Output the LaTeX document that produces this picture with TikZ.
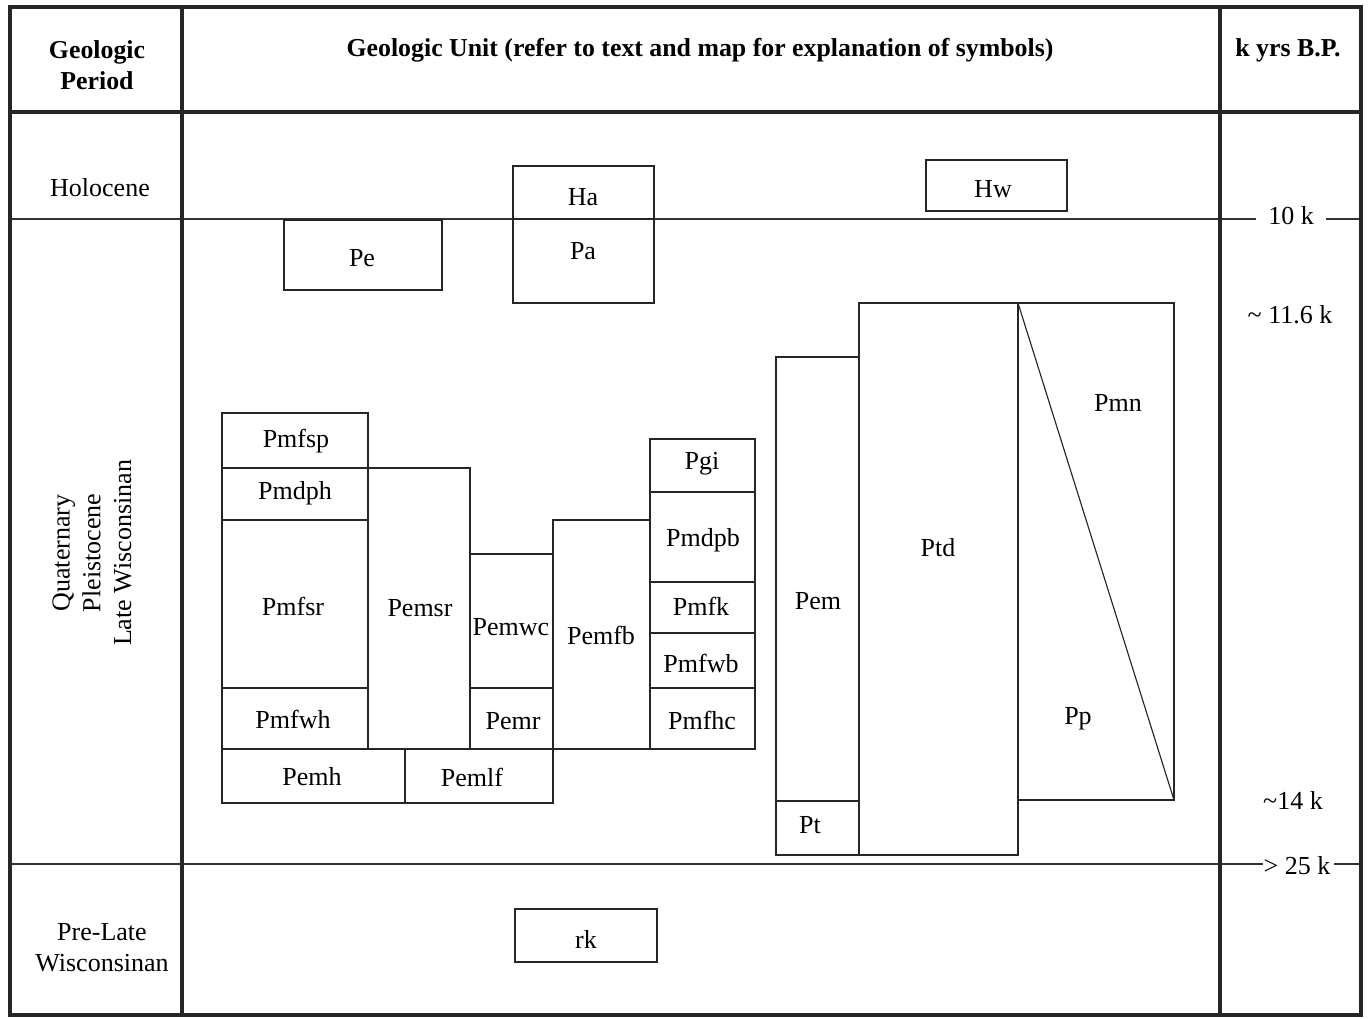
\documentclass[tikz,border=0pt]{standalone}
\usepackage{fontspec}
\setmainfont{Liberation Serif}
\begin{document}
\begin{tikzpicture}[x=0.02cm,y=-0.02cm,
  grid/.style={line width=2.7pt, draw=black!85},
  ubox/.style={draw=black!85, line width=0.65pt},
  sepline/.style={draw=black!80, line width=0.6pt},
  lbl/.style={font=\fontsize{14.8}{17}\selectfont, inner sep=1pt},
  hdr/.style={font=\bfseries\fontsize{14.7}{17.5}\selectfont, align=center, inner sep=1pt},
  per/.style={font=\fontsize{14.8}{17.5}\selectfont, align=center, inner sep=1pt}]
\useasboundingbox (0,0) rectangle (1369,1018);
% age separator lines
\draw[sepline] (12,219) -- (1220,219);
\draw[sepline] (12,864) -- (1220,864);
\node[per] (k10) at (1291,216) {10 k};
\node[per] (k116) at (1290,315) {\textasciitilde\ 11.6 k};
\node[per] (k14) at (1293,800) {\textasciitilde14 k};
\node[per] (k25) at (1297,866) {> 25 k};
\coordinate (r10a) at (1220,219); \coordinate (r10b) at (1360,219);
\coordinate (r25a) at (1220,864); \coordinate (r25b) at (1360,864);
\draw[sepline, line width=0.8pt] (r10a) -- (1256,219);
\draw[sepline, line width=0.8pt] (1326,219) -- (r10b);
\draw[sepline] (r25a) -- (1263,864);
\draw[sepline] (1334,864) -- (r25b);
% grid
\draw[grid] (10,7) rectangle (1361,1015);
\draw[grid] (182,7) -- (182,1015);
\draw[grid] (1220,7) -- (1220,1015);
\draw[grid] (10,112) -- (1361,112);
% headers
\node[hdr] (h1) at (97,65) {Geologic\\Period};
\node[hdr] (h2) at (700,50) {Geologic Unit (refer to text and map for explanation of symbols)};
\node[hdr] (h3) at (1288,50) {k yrs B.P.};
% periods
\node[per] (holo) at (100,188) {Holocene};
\node[per, rotate=90] (quat) at (92,553) {Quaternary\\Pleistocene\\Late Wisconsinan};
\node[per] (prelate) at (102,948) {Pre-Late\\Wisconsinan};
% Holocene / top units
\draw[ubox] (513,166) rectangle (654,219); \node[lbl] (ha) at (583,197) {Ha};
\draw[ubox] (513,219) rectangle (654,303); \node[lbl] (pa) at (583,251) {Pa};
\draw[ubox] (926,160) rectangle (1067,211); \node[lbl] (hw) at (993,189) {Hw};
\draw[ubox] (284,220) rectangle (442,290); \node[lbl] (pe) at (362,258) {Pe};
% left stack
\draw[ubox] (222,413) rectangle (368,468); \node[lbl] (pmfsp) at (296,441) {Pmfsp};
\draw[ubox] (222,468) rectangle (368,520); \node[lbl] (pmdph) at (295,493) {Pmdph};
\draw[ubox] (222,520) rectangle (368,688); \node[lbl] (pmfsr) at (293,606) {Pmfsr};
\draw[ubox] (222,688) rectangle (368,749); \node[lbl] (pmfwh) at (293,719) {Pmfwh};
\draw[ubox] (368,468) rectangle (470,749); \node[lbl] (pemsr) at (420,608) {Pemsr};
\draw[ubox] (470,554) rectangle (553,688); \node[lbl] (pemwc) at (511,627) {Pemwc};
\draw[ubox] (470,688) rectangle (553,749); \node[lbl] (pemr) at (513,721) {Pemr};
\draw[ubox] (553,520) rectangle (650,749); \node[lbl] (pemfb) at (601,635) {Pemfb};
\draw[ubox] (650,439) rectangle (755,492); \node[lbl] (pgi) at (702,464) {Pgi};
\draw[ubox] (650,492) rectangle (755,582); \node[lbl] (pmdpb) at (703,540) {Pmdpb};
\draw[ubox] (650,582) rectangle (755,633); \node[lbl] (pmfk) at (701,606) {Pmfk};
\draw[ubox] (650,633) rectangle (755,688); \node[lbl] (pmfwb) at (701,663) {Pmfwb};
\draw[ubox] (650,688) rectangle (755,749); \node[lbl] (pmfhc) at (702,720) {Pmfhc};
\draw[ubox] (222,749) rectangle (405,803); \node[lbl] (pemh) at (312,777) {Pemh};
\draw[ubox] (405,749) rectangle (553,803); \node[lbl] (pemlf) at (472,777) {Pemlf};
% right group
\draw[ubox] (776,357) rectangle (859,801); \node[lbl] (pem) at (818,601) {Pem};
\draw[ubox] (776,801) rectangle (859,855); \node[lbl] (pt) at (810,825) {Pt};
\draw[ubox] (859,303) rectangle (1018,855); \node[lbl] (ptd) at (938,548) {Ptd};
\draw[ubox] (1018,303) rectangle (1174,800);
\coordinate (dtop) at (1018,303); \coordinate (dbot) at (1174,800);
\draw[ubox] (dtop) -- (dbot);
\node[lbl] (pmn) at (1118,403) {Pmn};
\node[lbl] (pp) at (1078,719) {Pp};
% pre-late
\draw[ubox] (515,909) rectangle (657,962); \node[lbl] (rk) at (586,939) {rk};
\end{tikzpicture}
\end{document}
